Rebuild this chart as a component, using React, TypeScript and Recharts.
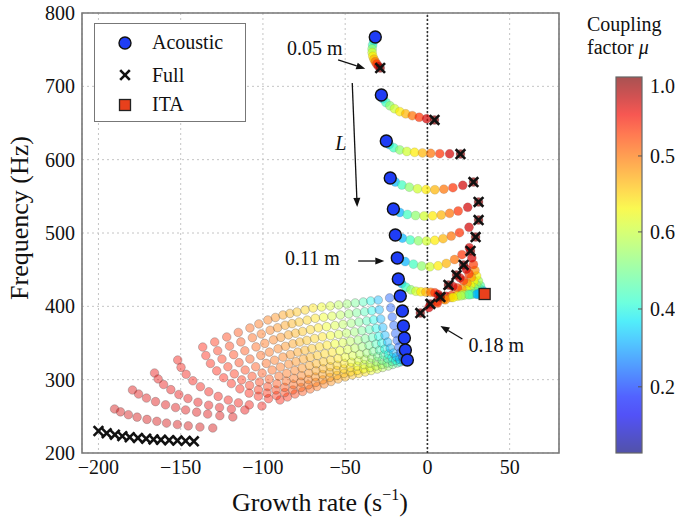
import React from "react";
import {
  ScatterChart, Scatter, XAxis, YAxis, CartesianGrid,
  ReferenceLine, ReferenceArea, ReferenceDot,
} from "recharts";

const FONT = '"Liberation Serif", "DejaVu Serif", serif';

const X_TICKS = [-200, -150, -100, -50, 0, 50];
const Y_TICKS = [200, 300, 400, 500, 600, 700, 800];

// colour bar text as printed, with its position on the bar (0 = bottom, 1 = top)
const CBAR_LABELS = ["1.0", "0.5", "0.6", "0.4", "0.2"];
const CBAR_POS = [0.976, 0.79, 0.588, 0.383, 0.176];

// acoustic modes (mu = 0)
const ACOUSTIC = [
  [-31.7, 767.3], [-28, 688.2], [-25, 625.5], [-22.6, 575], [-20.7, 532.7],
  [-19.5, 497.3], [-18.3, 465.9], [-17.7, 437.3], [-16.5, 414.1], [-15.2, 393.6],
  [-14.6, 373.2], [-14, 356.8], [-13.4, 340.5], [-12.2, 326.8],
];

// full model (mu = 1)
const FULL = [
  [-28.7, 725], [4.3, 654.1], [20.1, 607.7], [28, 569.5], [31.1, 542.3], [31.1, 517.7],
  [29.3, 494.5], [26.2, 475.5], [22, 456.4], [17.7, 442.7], [12.8, 429.1], [7.9, 412.7],
  [1.8, 403.2], [-4.3, 390.9],
  [-200, 230], [-195, 227], [-190, 225], [-185.5, 223], [-181, 221.5], [-176, 220.5],
  [-171, 219.5], [-166.5, 218.5], [-162, 218], [-157, 217.5], [-152, 217], [-147, 216.5],
  [-142, 216],
];

const ITA = [[34.8, 416.8]];

// short-length trajectories, acoustic circle -> full cross
const UPPER_MU = [0, 0.3, 0.42, 0.52, 0.6, 0.66, 0.72, 0.79, 0.86, 0.93, 1.0];
const UPPER_CURVES = [
  [[-31.7, 767.3], [-32.6, 762], [-33.3, 756.5], [-33.6, 751], [-33.6, 746], [-33.2, 741], [-32.5, 737], [-31.7, 733.5], [-30.8, 730.5], [-29.8, 727.5], [-28.7, 725]],
  [[-28, 688.2], [-27, 683], [-25.2, 678], [-22.8, 673.5], [-20, 669.5], [-16.8, 665.5], [-13.2, 662.5], [-9.2, 660], [-5, 657.8], [-0.5, 655.8], [4.3, 654.1]],
  [[-25, 625.5], [-23.2, 620.5], [-20.5, 616.3], [-16.8, 613.3], [-12.5, 611.2], [-7.8, 610], [-3, 609.2], [2, 608.6], [7.5, 608.2], [13.5, 607.9], [20.1, 607.7]],
  [[-22.6, 575], [-19.5, 569.5], [-15.5, 565.5], [-11, 562.5], [-6, 560.3], [-0.8, 559.2], [4.5, 559], [10, 559.8], [15.5, 561.8], [21.5, 565], [28, 569.5]],
  [[-20.7, 532.7], [-16.8, 528], [-12.2, 525.3], [-7.2, 523.8], [-2, 523.2], [3.2, 523.4], [8.4, 524.6], [13.5, 526.8], [18.7, 530], [24.5, 535], [31.1, 542.3]],
  [[-19.5, 497.3], [-15.2, 493], [-10.4, 490.5], [-5.5, 489.3], [-0.5, 489.1], [4.5, 490], [9.5, 492.3], [14.5, 495.8], [19.5, 500.5], [25.3, 507.8], [31.1, 517.7]],
  [[-18.3, 465.9], [-13.5, 461], [-8.5, 457.5], [-3.5, 455], [1.5, 454], [6.5, 455.2], [11.5, 458.5], [16.5, 463.8], [21, 470.5], [25.5, 480], [29.3, 494.5]],
  [[-17.7, 437.3], [-15.6, 431], [-13, 426], [-10, 422.5], [-7, 420.6], [-4, 419.8], [-1, 419.5], [2, 419.3], [4.5, 418.5], [6.5, 416.2], [7.9, 412.7]],
];

// ITA branches, square -> crosses
const FAN_MU = [0, 0.3, 0.45, 0.55, 0.65, 0.75, 0.85, 0.93, 1.0];
const FAN_LINES = [
  [[34.8, 416.8], [33.5, 422], [32.2, 428], [31, 434.5], [29.9, 441.5], [28.9, 449], [28, 457], [27, 466], [26.2, 475.5]],
  [[34.8, 416.8], [33, 420.5], [31.3, 424.5], [29.7, 429], [28.2, 434], [26.8, 439.5], [25.3, 444.5], [23.7, 450.5], [22, 456.4]],
  [[34.8, 416.8], [32.6, 419.5], [30.4, 422.3], [28.3, 425.2], [26.2, 428.3], [24.1, 431.5], [22, 435], [19.8, 438.8], [17.7, 442.7]],
  [[34.8, 416.8], [32, 418.1], [29.3, 419.4], [26.5, 420.7], [23.8, 422], [21, 423.5], [18.3, 425.1], [15.5, 427], [12.8, 429.1]],
  [[34.8, 416.8], [31.4, 417], [28, 416.9], [24.6, 416.6], [21.2, 416.1], [17.8, 415.5], [14.5, 414.7], [11.2, 413.8], [7.9, 412.7]],
  [[34.8, 416.8], [30.6, 416.6], [26.5, 416.1], [22.4, 415.2], [18.3, 413.8], [14.3, 412], [10.1, 409.6], [6, 406.6], [1.8, 403.2]],
  [[34.8, 416.8], [30, 416.5], [25.2, 415.8], [20.4, 414.4], [15.6, 412.1], [10.9, 408.9], [6.1, 404.4], [0.9, 398.3], [-4.3, 390.9]],
];

// long-length cloud, one arc per coupling value (outer arcs first)
const CLOUD_MU = [
  0.93, 0.92, 0.91, 0.9, 0.89, 0.875, 0.86, 0.84, 0.82, 0.805, 0.79, 0.77, 0.75,
  0.73, 0.71, 0.69, 0.67, 0.64, 0.61, 0.57, 0.53, 0.48, 0.43, 0.37, 0.3, 0.2,
];
const CLOUD_ARCS = [
  [[-190.2, 260], [-186.6, 256.1], [-181.8, 252.2], [-176.5, 248.9], [-170.5, 245.8], [-164.5, 243.2], [-158.6, 240.8], [-152, 238.8], [-145.4, 237], [-138.3, 235.4], [-130.5, 234.1]],
  [[-179.3, 285.9], [-175.6, 280.4], [-170.8, 274.9], [-165.3, 270.1], [-159.2, 265.7], [-153.1, 262], [-147, 258.7], [-140.3, 255.7], [-133.6, 253.1], [-126.2, 250.9], [-118.3, 249.1]],
  [[-165.9, 309.1], [-163.7, 301], [-160.4, 293.4], [-156, 286.4], [-151.1, 279.8], [-145.6, 274.3], [-139.5, 269.2], [-133, 265.2], [-126.4, 262.1], [-119.2, 259.9], [-111, 258.6]],
  [[-151.8, 326.8], [-149.8, 316.8], [-146.7, 307.3], [-142.6, 298.5], [-138, 290.4], [-132.9, 283.5], [-127.2, 277.2], [-121.1, 272.2], [-114.9, 268.4], [-108.3, 265.6], [-100.6, 264]],
  [[-136.6, 344.5], [-134.7, 332.9], [-131.9, 322.1], [-128.1, 312], [-123.9, 302.6], [-119.2, 294.7], [-114, 287.5], [-108.4, 281.7], [-102.8, 277.4], [-96.6, 274.1], [-89.6, 272.3]],
  [[-129.3, 351.4], [-127.5, 339.4], [-124.9, 328.1], [-121.3, 317.6], [-117.4, 307.9], [-112.9, 299.7], [-108.1, 292.2], [-102.8, 286.2], [-97.5, 281.7], [-91.7, 278.3], [-85.1, 276.4]],
  [[-122, 358.2], [-120.3, 345.8], [-117.8, 334.1], [-114.5, 323.2], [-110.8, 313.1], [-106.6, 304.6], [-102.1, 296.8], [-97.1, 290.6], [-92.1, 285.9], [-86.7, 282.4], [-80.5, 280.5]],
  [[-115, 364.4], [-113.4, 351.5], [-111, 339.4], [-107.9, 328.2], [-104.4, 317.7], [-100.5, 308.9], [-96.2, 300.8], [-91.5, 294.4], [-86.8, 289.5], [-81.8, 285.9], [-75.9, 283.9]],
  [[-107.9, 370.5], [-106.4, 357.2], [-104.2, 344.7], [-101.3, 333.1], [-98, 322.2], [-94.4, 313.1], [-90.3, 304.8], [-85.9, 298.1], [-81.5, 293.1], [-76.8, 289.4], [-71.3, 287.3]],
  [[-102.5, 376], [-101, 362.3], [-98.9, 349.5], [-96.1, 337.6], [-92.9, 326.5], [-89.4, 317.2], [-85.5, 308.6], [-81.2, 301.8], [-77, 296.7], [-72.4, 292.9], [-67.1, 290.7]],
  [[-97, 381.4], [-95.6, 367.4], [-93.6, 354.3], [-90.8, 342.1], [-87.8, 330.8], [-84.3, 321.2], [-80.6, 312.4], [-76.5, 305.4], [-72.4, 300.2], [-67.9, 296.3], [-62.8, 294.1]],
  [[-92.4, 384.8], [-91.1, 370.8], [-89.1, 357.7], [-86.3, 345.5], [-83.3, 334.2], [-79.9, 324.6], [-76.2, 315.8], [-72.1, 308.8], [-68.1, 303.6], [-63.6, 299.7], [-58.6, 297.5]],
  [[-87.8, 388.2], [-86.5, 374.2], [-84.5, 361.1], [-81.8, 348.9], [-78.8, 337.6], [-75.4, 328], [-71.7, 319.2], [-67.7, 312.2], [-63.7, 307], [-59.3, 303.1], [-54.3, 300.9]],
  [[-83.6, 390.3], [-82.3, 376.4], [-80.2, 363.4], [-77.6, 351.3], [-74.5, 340.1], [-71.2, 330.5], [-67.5, 321.8], [-63.4, 314.9], [-59.4, 309.7], [-55, 305.8], [-50, 303.7]],
  [[-79.3, 392.3], [-78, 378.6], [-75.9, 365.7], [-73.3, 353.6], [-70.2, 342.5], [-66.9, 333], [-63.2, 324.4], [-59.1, 317.6], [-55.1, 312.4], [-50.7, 308.5], [-45.7, 306.4]],
  [[-74.4, 395], [-73.1, 381.2], [-71.1, 368.2], [-68.6, 356.1], [-65.6, 344.8], [-62.4, 335.3], [-58.8, 326.6], [-54.8, 319.7], [-50.9, 314.5], [-46.7, 310.6], [-41.8, 308.5]],
  [[-69.5, 397.7], [-68.2, 383.7], [-66.3, 370.7], [-63.8, 358.5], [-61, 347.1], [-57.8, 337.5], [-54.3, 328.8], [-50.5, 321.8], [-46.7, 316.6], [-42.6, 312.7], [-37.8, 310.5]],
  [[-64.3, 399.1], [-63.1, 385.2], [-61.3, 372.3], [-58.9, 360.2], [-56.2, 348.9], [-53.2, 339.4], [-49.9, 330.7], [-46.2, 323.8], [-42.6, 318.6], [-38.7, 314.7], [-34.2, 312.5]],
  [[-59.1, 400.5], [-58, 386.7], [-56.2, 373.8], [-54, 361.8], [-51.4, 350.6], [-48.5, 341.2], [-45.4, 332.6], [-41.9, 325.7], [-38.5, 320.5], [-34.8, 316.7], [-30.5, 314.5]],
  [[-54, 401.9], [-52.9, 388.2], [-51.3, 375.4], [-49.2, 363.5], [-46.8, 352.4], [-44.1, 343], [-41.1, 334.5], [-37.9, 327.7], [-34.7, 322.5], [-31.2, 318.7], [-27.2, 316.6]],
  [[-48.8, 403.2], [-47.8, 389.7], [-46.3, 377], [-44.3, 365.1], [-42.1, 354.1], [-39.6, 344.8], [-36.8, 336.4], [-33.8, 329.6], [-30.8, 324.5], [-27.6, 320.7], [-23.8, 318.6]],
  [[-43.9, 404.6], [-43, 391.2], [-41.6, 378.6], [-39.8, 366.8], [-37.8, 355.9], [-35.5, 346.7], [-33, 338.3], [-30.2, 331.6], [-27.5, 326.5], [-24.5, 322.8], [-21.1, 320.7]],
  [[-39, 405.9], [-38.2, 392.6], [-36.9, 380.1], [-35.3, 368.5], [-33.4, 357.6], [-31.3, 348.5], [-29.1, 340.2], [-26.6, 333.5], [-24.1, 328.5], [-21.4, 324.8], [-18.3, 322.7]],
  [[-34.5, 407.3], [-33.8, 394], [-32.7, 381.5], [-31.2, 369.9], [-29.6, 359], [-27.8, 349.9], [-25.9, 341.6], [-23.7, 334.9], [-21.5, 329.9], [-19.2, 326.2], [-16.5, 324.1]],
  [[-29.9, 408.6], [-29.3, 395.3], [-28.4, 382.8], [-27.1, 371.2], [-25.8, 360.4], [-24.2, 351.3], [-22.6, 342.9], [-20.7, 336.3], [-18.9, 331.3], [-16.9, 327.6], [-14.6, 325.5]],
  [[-23, 411.5], [-22.3, 398], [-21.4, 385.5], [-20.4, 374], [-19.4, 363], [-18.4, 353.5], [-17.4, 344.5], [-16.3, 337], [-15.2, 331], [-14.1, 327], [-13, 324.8]],
];

// annotations
const ARROWS = [
  [[-54.3, 736], [-37.8, 724]],
  [[-45.7, 704.5], [-42.7, 535.5]],
  [[-42.1, 461.8], [-26.2, 461.8]],
  [[21.3, 355.5], [7.9, 373.2]],
];
const NOTES = [
  { x: -85.4, y: 752.3, text: "0.05 m" },
  { x: -56, y: 622.7, text: "L", italic: true },
  { x: -86.6, y: 466, text: "0.11 m" },
  { x: 25, y: 347.3, text: "0.18 m" },
];

// matplotlib jet
function seg(v: number, pts: number[][]) {
  for (let i = 1; i < pts.length; i++) {
    if (v <= pts[i][0]) {
      const [x0, y0] = pts[i - 1];
      const [x1, y1] = pts[i];
      return y0 + ((y1 - y0) * (v - x0)) / (x1 - x0);
    }
  }
  return pts[pts.length - 1][1];
}
function jet(v: number) {
  const r = seg(v, [[0, 0], [0.35, 0], [0.66, 1], [0.89, 1], [1, 0.5]]);
  const g = seg(v, [[0, 0], [0.125, 0], [0.375, 1], [0.64, 1], [0.91, 0], [1, 0]]);
  const b = seg(v, [[0, 0.5], [0.11, 1], [0.34, 1], [0.65, 0], [1, 0]]);
  return `rgb(${Math.round(r * 255)},${Math.round(g * 255)},${Math.round(b * 255)})`;
}

const fmt = (v: number) => (v < 0 ? "\u2212" + Math.abs(v) : String(v));

const cloudData = CLOUD_ARCS.flatMap((arc, i) => arc.map(([x, y]) => ({ x, y, mu: CLOUD_MU[i] })));
const upperData = UPPER_CURVES.flatMap((c) => c.map(([x, y], j) => ({ x, y, mu: UPPER_MU[j] })));
const fanData = FAN_LINES.flatMap((c) => c.map(([x, y], j) => ({ x, y, mu: FAN_MU[j] })));
const acousticData = ACOUSTIC.map(([x, y]) => ({ x, y }));
const fullData = FULL.map(([x, y]) => ({ x, y }));
const itaData = ITA.map(([x, y]) => ({ x, y }));

const CloudDot = (p: any) => (
  <circle cx={p.cx} cy={p.cy} r={4.3} fill={jet(p.payload.mu)} fillOpacity={0.42}
    stroke="#555" strokeOpacity={0.35} strokeWidth={0.9} />
);
const TrackDot = (p: any) => (
  <circle cx={p.cx} cy={p.cy} r={4.5} fill={jet(p.payload.mu)} fillOpacity={0.7}
    stroke="#666" strokeOpacity={0.22} strokeWidth={0.8} />
);
const CircleMark = (p: any) => (
  <circle cx={p.cx} cy={p.cy} r={6} fill="#1f3df5" stroke="#111" strokeWidth={1.4} />
);
const CrossMark = (p: any) => {
  const s = 4.8;
  return (
    <g stroke="#111" strokeWidth={2.6}>
      <line x1={p.cx - s} y1={p.cy - s} x2={p.cx + s} y2={p.cy + s} />
      <line x1={p.cx - s} y1={p.cy + s} x2={p.cx + s} y2={p.cy - s} />
    </g>
  );
};
const SquareMark = (p: any) => (
  <rect x={p.cx - 5.5} y={p.cy - 5.5} width={11} height={11} fill="#e8401c" stroke="#222" strokeWidth={1.3} />
);

const ArrowShape = (p: any) => {
  const { x1, y1, x2, y2 } = p;
  const a = Math.atan2(y2 - y1, x2 - x1);
  const len = 9, w = 3.5;
  const bx = x2 - len * Math.cos(a);
  const by = y2 - len * Math.sin(a);
  const pts = `${x2},${y2} ${bx + w * Math.sin(a)},${by - w * Math.cos(a)} ${bx - w * Math.sin(a)},${by + w * Math.cos(a)}`;
  return (
    <g>
      <line x1={x1} y1={y1} x2={bx} y2={by} stroke="#111" strokeWidth={1.3} />
      <polygon points={pts} fill="#111" />
    </g>
  );
};

const XTick = (p: any) => (
  <text x={p.x} y={p.y + 13} textAnchor="middle" fontSize={20} fontFamily={FONT} fill="#111">
    {fmt(p.payload.value)}
  </text>
);
const YTick = (p: any) => (
  <text x={p.x + 1} y={p.y + 7} textAnchor="end" fontSize={20} fontFamily={FONT} fill="#111">
    {fmt(p.payload.value)}
  </text>
);

function Legend() {
  return (
    <div style={{
      position: "absolute", left: 94, top: 23, width: 152, height: 99, boxSizing: "border-box",
      border: "1.5px solid #777", background: "#fff",
    }}>
      <svg width={150} height={96} style={{ position: "absolute", left: 0, top: 0 }}>
        <CircleMark cx={30} cy={19} />
        <CrossMark cx={30} cy={51} />
        <SquareMark cx={30} cy={81} />
        <g fontFamily={FONT} fontSize={20} fill="#111">
          <text x={57} y={25}>Acoustic</text>
          <text x={57} y={58}>Full</text>
          <text x={57} y={87}>ITA</text>
        </g>
      </svg>
    </div>
  );
}

function Overlay() {
  const top = 77, bottom = 453, left = 616, width = 26;
  const h = bottom - top;
  const stops = Array.from({ length: 21 }, (_, i) => i / 20);
  return (
    <svg width={675} height={520} style={{ position: "absolute", left: 0, top: 0, pointerEvents: "none" }}>
      <defs>
        <linearGradient id="cbar" x1="0" y1="1" x2="0" y2="0">
          {stops.map((v) => (
            <stop key={v} offset={v} stopColor={jet(v)} stopOpacity={0.68} />
          ))}
        </linearGradient>
      </defs>
      <g fontFamily={FONT} fill="#111">
        <text x={28} y={218} fontSize={26} textAnchor="middle" transform="rotate(-90 28 218)">
          Frequency (Hz)
        </text>
        <text x={320} y={511} fontSize={26} textAnchor="middle">
          Growth rate (s
          <tspan fontSize={16} dy={-11}>{"\u2212"}1</tspan>
          <tspan dy={11}>)</tspan>
        </text>
        <text x={587} y={31} fontSize={20}>Coupling</text>
        <text x={587} y={54} fontSize={20}>
          factor <tspan fontStyle="italic">{"\u03bc"}</tspan>
        </text>
      </g>
      <rect x={left} y={top} width={width} height={h} fill="#fff" />
      <rect x={left} y={top} width={width} height={h} fill="url(#cbar)" stroke="#666" strokeWidth={1.2} />
      {CBAR_POS.map((p, i) => (
        <g key={i}>
          {i > 0 && (
            <line x1={left + width - 4} x2={left + width} y1={bottom - p * h} y2={bottom - p * h}
              stroke="#555" strokeWidth={1} />
          )}
          <text x={650} y={bottom - p * h + 7} fontSize={20} fontFamily={FONT} fill="#111">
            {CBAR_LABELS[i]}
          </text>
        </g>
      ))}
    </svg>
  );
}

export default function App() {
  return (
    <div style={{ position: "relative", width: 675, height: 520, background: "#fff" }}>
      <style>{"body{margin:0}"}</style>
      <ScatterChart width={675} height={520} margin={{ top: 13, right: 116, bottom: 37, left: 22 }}>
        <CartesianGrid stroke="#c4c4c4" strokeDasharray="2 3" />
        <XAxis dataKey="x" type="number" domain={[-210, 80]} ticks={X_TICKS} allowDataOverflow
          height={30} axisLine={false} tickLine={false} tick={<XTick />} />
        <YAxis dataKey="y" type="number" domain={[200, 800]} ticks={Y_TICKS} allowDataOverflow
          width={60} axisLine={false} tickLine={false} tick={<YTick />} />
        <ReferenceLine x={0} stroke="#333" strokeWidth={1.6} strokeDasharray="2 2" />
        <ReferenceArea x1={-210} x2={80} y1={200} y2={800} fill="none" stroke="#777" strokeWidth={1.6} />
        <Scatter data={cloudData} shape={CloudDot} isAnimationActive={false} />
        <Scatter data={fanData} shape={TrackDot} isAnimationActive={false} />
        <Scatter data={upperData} shape={TrackDot} isAnimationActive={false} />
        <Scatter data={fullData} shape={CrossMark} isAnimationActive={false} />
        <Scatter data={acousticData} shape={CircleMark} isAnimationActive={false} />
        <Scatter data={itaData} shape={SquareMark} isAnimationActive={false} />
        {ARROWS.map(([a, b], i) => (
          <ReferenceLine key={"a" + i} segment={[{ x: a[0], y: a[1] }, { x: b[0], y: b[1] }]} shape={ArrowShape} />
        ))}
        {NOTES.map((n, i) => (
          <ReferenceDot key={"n" + i} x={n.x} y={n.y} r={0}
            shape={(p: any) => (
              <text x={p.cx} y={p.cy + 7} fontSize={20} fontFamily={FONT} fill="#111"
                fontStyle={n.italic ? "italic" : "normal"}>
                {n.text}
              </text>
            )} />
        ))}
      </ScatterChart>
      <Legend />
      <Overlay />
    </div>
  );
}
